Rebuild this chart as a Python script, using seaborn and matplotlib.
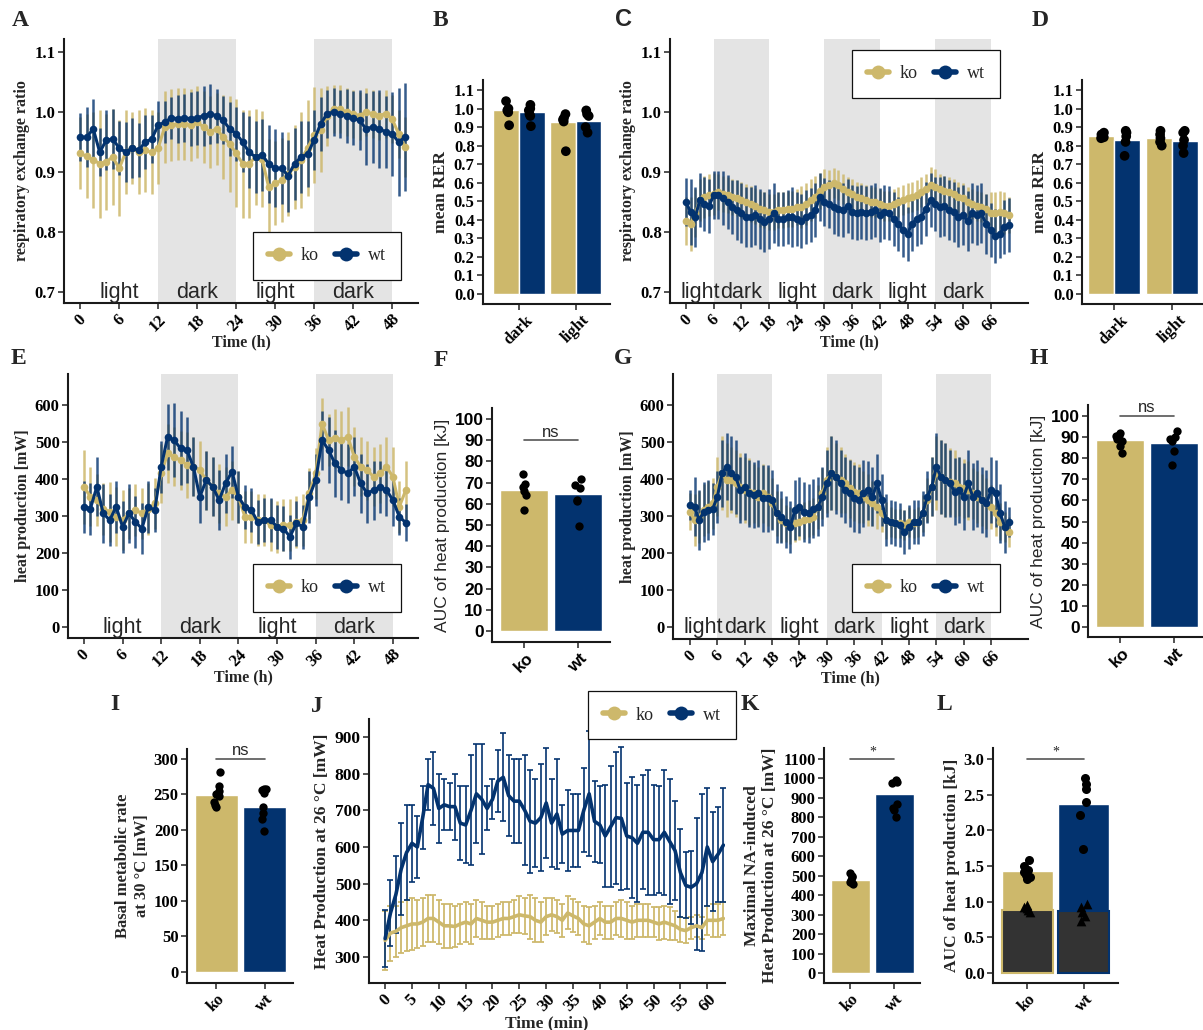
import numpy as np
import pandas as pd
import matplotlib
matplotlib.use("Agg")
import matplotlib.pyplot as plt
from matplotlib.lines import Line2D
import seaborn as sns

# ---------------- data ----------------
genotypes = ["ko", "wt"]
periods = ["dark", "light"]

# Panel A: RER, 50 h
hours_A = list(range(0, 51))
a_wt = [0.958, 0.958, 0.972, 0.933, 0.953, 0.955, 0.940, 0.933, 0.940, 0.936,
        0.950, 0.955, 0.978, 0.983, 0.990, 0.989, 0.990, 0.989, 0.990, 0.994,
        0.997, 0.994, 0.986, 0.972, 0.964, 0.950, 0.933, 0.925, 0.928, 0.914,
        0.906, 0.906, 0.894, 0.914, 0.925, 0.930, 0.953, 0.980, 0.997, 1.000,
        0.997, 0.994, 0.990, 0.986, 0.972, 0.975, 0.972, 0.967, 0.964, 0.950,
        0.958]
a_wt_err = [0.040, 0.050, 0.050, 0.040, 0.050, 0.050, 0.045, 0.050, 0.050, 0.045,
            0.045, 0.040, 0.040, 0.035, 0.035, 0.040, 0.040, 0.045, 0.045, 0.050,
            0.050, 0.045, 0.040, 0.045, 0.045, 0.050, 0.060, 0.060, 0.060, 0.065,
            0.065, 0.060, 0.060, 0.060, 0.060, 0.055, 0.050, 0.045, 0.040, 0.040,
            0.040, 0.045, 0.045, 0.050, 0.060, 0.060, 0.065, 0.060, 0.070, 0.090,
            0.090]
a_ko = [0.931, 0.926, 0.920, 0.914, 0.917, 0.925, 0.906, 0.933, 0.940, 0.933,
        0.936, 0.933, 0.940, 0.975, 0.978, 0.980, 0.980, 0.978, 0.983, 0.975,
        0.967, 0.972, 0.958, 0.947, 0.931, 0.914, 0.914, 0.925, 0.922, 0.875,
        0.881, 0.886, 0.897, 0.908, 0.920, 0.940, 0.961, 0.970, 0.994, 1.005,
        1.005, 1.000, 0.997, 0.994, 1.000, 0.997, 0.994, 0.997, 0.989, 0.964,
        0.942]
a_ko_err = [0.060, 0.070, 0.080, 0.090, 0.080, 0.080, 0.080, 0.070, 0.060, 0.070,
            0.070, 0.070, 0.060, 0.060, 0.060, 0.060, 0.060, 0.060, 0.060, 0.060,
            0.060, 0.060, 0.070, 0.080, 0.090, 0.090, 0.090, 0.080, 0.080, 0.080,
            0.070, 0.070, 0.070, 0.070, 0.080, 0.080, 0.080, 0.070, 0.050, 0.040,
            0.040, 0.040, 0.040, 0.040, 0.040, 0.040, 0.040, 0.040, 0.040, 0.040,
            0.050]

# Panel C: RER, 70 h
hours_C = list(range(0, 71))
c_wt = [0.850, 0.833, 0.825, 0.853, 0.847, 0.844, 0.861, 0.861, 0.856, 0.850,
        0.842, 0.836, 0.831, 0.825, 0.825, 0.828, 0.822, 0.817, 0.822, 0.831,
        0.822, 0.822, 0.825, 0.825, 0.822, 0.819, 0.825, 0.828, 0.836, 0.858,
        0.850, 0.847, 0.842, 0.839, 0.836, 0.844, 0.833, 0.831, 0.833, 0.831,
        0.833, 0.836, 0.828, 0.833, 0.831, 0.822, 0.814, 0.803, 0.797, 0.814,
        0.822, 0.825, 0.839, 0.853, 0.847, 0.842, 0.844, 0.836, 0.833, 0.825,
        0.828, 0.819, 0.831, 0.828, 0.831, 0.814, 0.803, 0.794, 0.797, 0.808,
        0.811]
c_wt_err = [0.040, 0.055, 0.050, 0.045, 0.045, 0.045, 0.040, 0.040, 0.045, 0.045,
            0.045, 0.050, 0.050, 0.050, 0.050, 0.050, 0.050, 0.050, 0.050, 0.050,
            0.045, 0.045, 0.045, 0.050, 0.045, 0.045, 0.045, 0.045, 0.045, 0.040,
            0.040, 0.040, 0.045, 0.045, 0.045, 0.045, 0.045, 0.045, 0.045, 0.045,
            0.045, 0.045, 0.045, 0.045, 0.045, 0.045, 0.045, 0.045, 0.045, 0.045,
            0.045, 0.045, 0.045, 0.045, 0.045, 0.050, 0.050, 0.050, 0.050, 0.050,
            0.050, 0.050, 0.050, 0.050, 0.050, 0.050, 0.045, 0.045, 0.040, 0.045,
            0.045]
c_ko = [0.819, 0.814, 0.831, 0.853, 0.858, 0.861, 0.864, 0.867, 0.864, 0.861,
        0.858, 0.856, 0.853, 0.850, 0.847, 0.844, 0.839, 0.836, 0.833, 0.833,
        0.836, 0.836, 0.839, 0.839, 0.842, 0.842, 0.847, 0.853, 0.858, 0.869,
        0.875, 0.878, 0.881, 0.878, 0.872, 0.867, 0.864, 0.858, 0.856, 0.853,
        0.850, 0.850, 0.847, 0.844, 0.844, 0.847, 0.850, 0.853, 0.856, 0.858,
        0.861, 0.867, 0.872, 0.878, 0.875, 0.872, 0.869, 0.867, 0.864, 0.858,
        0.856, 0.850, 0.847, 0.844, 0.842, 0.839, 0.831, 0.831, 0.833, 0.831,
        0.828]
c_ko_err = [0.040, 0.045, 0.040, 0.035, 0.035, 0.035, 0.035, 0.030, 0.030, 0.030,
            0.030, 0.030, 0.030, 0.030, 0.030, 0.030, 0.030, 0.030, 0.030, 0.030,
            0.030, 0.030, 0.030, 0.030, 0.030, 0.035, 0.035, 0.035, 0.035, 0.030,
            0.030, 0.025, 0.025, 0.025, 0.025, 0.025, 0.025, 0.025, 0.025, 0.025,
            0.025, 0.025, 0.025, 0.025, 0.025, 0.025, 0.025, 0.025, 0.025, 0.025,
            0.025, 0.025, 0.025, 0.030, 0.030, 0.025, 0.025, 0.025, 0.025, 0.025,
            0.025, 0.025, 0.025, 0.025, 0.025, 0.025, 0.035, 0.035, 0.035, 0.035,
            0.030]

# Panel E: heat production, 50 h
hours_E = list(range(0, 51))
e_wt = [325, 320, 379, 307, 289, 325, 271, 307, 284, 266,
        325, 316, 433, 514, 505, 483, 478, 433, 352, 397,
        379, 343, 388, 420, 352, 325, 316, 284, 289, 289,
        271, 266, 244, 280, 271, 352, 397, 505, 478, 442,
        424, 415, 433, 388, 361, 370, 379, 370, 343, 298,
        282]
e_wt_err = [70, 70, 80, 80, 70, 70, 70, 80, 70, 70,
            70, 60, 70, 90, 100, 100, 90, 80, 70, 80,
            80, 80, 80, 70, 70, 60, 60, 60, 60, 60,
            60, 60, 60, 60, 60, 70, 70, 80, 90, 90,
            80, 80, 80, 80, 80, 80, 70, 70, 70, 50,
            50]
e_ko = [379, 352, 343, 320, 311, 298, 289, 307, 316, 307,
        320, 334, 415, 469, 460, 451, 438, 433, 424, 397,
        379, 361, 352, 370, 352, 298, 298, 289, 289, 275,
        271, 275, 275, 284, 289, 361, 415, 550, 505, 510,
        505, 514, 460, 433, 424, 406, 415, 433, 406, 325,
        370]
e_ko_err = [100, 80, 70, 70, 80, 80, 80, 70, 70, 70,
            70, 70, 80, 80, 80, 80, 90, 80, 80, 80,
            80, 80, 80, 80, 70, 70, 70, 70, 70, 70,
            70, 70, 70, 70, 70, 70, 70, 70, 70, 80,
            80, 80, 80, 80, 80, 80, 80, 80, 80, 70,
            80]

# Panel G: heat production, 70 h
hours_G = list(range(0, 71))
g_wt = [329, 325, 289, 311, 316, 320, 352, 415, 433, 415,
        406, 370, 379, 361, 357, 361, 348, 348, 343, 307,
        298, 284, 271, 316, 325, 311, 307, 320, 325, 352,
        388, 415, 406, 388, 370, 361, 348, 343, 361, 370,
        352, 388, 343, 289, 284, 280, 275, 257, 271, 284,
        284, 307, 352, 379, 433, 406, 397, 388, 366, 370,
        352, 388, 352, 361, 343, 334, 370, 361, 307, 271,
        284]
g_wt_err = [40, 80, 80, 80, 80, 70, 70, 90, 90, 100,
            100, 90, 90, 90, 90, 90, 90, 90, 80, 80,
            70, 70, 70, 80, 80, 80, 80, 80, 80, 80,
            90, 100, 100, 90, 90, 90, 90, 90, 90, 80,
            80, 80, 70, 70, 60, 60, 60, 60, 60, 60,
            60, 60, 70, 80, 90, 100, 100, 90, 90, 90,
            90, 90, 90, 90, 90, 90, 90, 90, 80, 70,
            40]
g_ko = [311, 289, 298, 316, 325, 334, 379, 415, 397, 397,
        388, 379, 370, 366, 361, 352, 361, 352, 334, 307,
        289, 280, 275, 280, 284, 289, 293, 298, 325, 361,
        397, 415, 406, 397, 388, 375, 366, 361, 352, 343,
        334, 325, 307, 289, 284, 280, 280, 275, 284, 280,
        284, 307, 343, 379, 415, 406, 397, 393, 388, 379,
        375, 370, 361, 352, 343, 334, 325, 307, 284, 271,
        257]
g_ko_err = [50, 70, 70, 70, 70, 70, 80, 100, 100, 90,
            90, 90, 90, 90, 80, 80, 80, 80, 70, 60,
            60, 50, 50, 50, 50, 50, 50, 50, 60, 70,
            90, 100, 90, 90, 80, 80, 80, 80, 70, 70,
            60, 60, 50, 50, 40, 40, 40, 40, 40, 40,
            40, 50, 60, 80, 100, 100, 100, 90, 90, 80,
            80, 80, 70, 70, 70, 70, 60, 60, 50, 40,
            40]

# Panel J: heat production at 26 C, 63 min
minutes_J = list(range(0, 64))
j_wt = [350, 420, 470, 540, 585, 610, 600, 680, 770, 760,
        705, 715, 710, 710, 665, 660, 700, 745, 730, 705,
        730, 780, 790, 740, 725, 725, 700, 670, 665, 680,
        720, 665, 690, 635, 645, 645, 645, 700, 745, 670,
        660, 630, 655, 680, 678, 630, 625, 610, 640, 640,
        620, 620, 640, 615, 590, 530, 495, 490, 500, 530,
        600, 560, 580, 605]
j_wt_err = [78, 90, 105, 125, 130, 105, 85, 85, 70, 100,
            95, 70, 65, 90, 100, 105, 150, 135, 150, 60,
            55, 85, 120, 110, 115, 115, 150, 140, 120, 145,
            150, 120, 150, 80, 110, 100, 100, 115, 170, 110,
            105, 140, 165, 180, 195, 145, 165, 160, 155, 170,
            150, 145, 170, 170, 135, 120, 90, 100, 180, 215,
            160, 135, 130, 155]
j_ko = [345, 365, 370, 380, 385, 390, 390, 395, 405, 405,
        395, 385, 385, 383, 390, 395, 390, 405, 400, 395,
        395, 400, 405, 405, 410, 415, 412, 410, 400, 395,
        410, 415, 410, 400, 420, 412, 405, 390, 385, 395,
        405, 395, 395, 405, 405, 400, 395, 400, 400, 400,
        395, 390, 395, 390, 385, 375, 372, 380, 385, 380,
        400, 400, 400, 405]
j_ko_err = [80, 75, 70, 70, 70, 70, 65, 65, 65, 65,
            60, 60, 60, 55, 55, 55, 55, 50, 50, 45,
            45, 45, 45, 45, 45, 50, 50, 60, 60, 55,
            50, 45, 45, 45, 45, 45, 45, 50, 50, 45,
            45, 45, 45, 45, 50, 50, 45, 45, 45, 45,
            40, 45, 45, 45, 40, 35, 35, 30, 30, 30,
            40, 45, 45, 45]

# Panel B: mean RER
b_ko_means = [0.990, 0.930]
b_wt_means = [0.982, 0.935]
b_ko_dark = [1.04, 1.00, 0.99, 0.98, 0.91]
b_wt_dark = [1.02, 1.00, 0.99, 0.97, 0.96, 0.905]
b_ko_light = [0.97, 0.95, 0.94, 0.93, 0.77]
b_wt_light = [0.99, 0.97, 0.96, 0.90, 0.87]

# Panel D: mean RER
d_ko_means = [0.852, 0.840]
d_wt_means = [0.830, 0.825]
d_ko_dark = [0.87, 0.86, 0.855, 0.845, 0.84]
d_wt_dark = [0.88, 0.87, 0.85, 0.82, 0.745]
d_ko_light = [0.88, 0.86, 0.84, 0.82, 0.80]
d_wt_light = [0.88, 0.87, 0.83, 0.80, 0.76]

# Panel F / H: AUC heat production [kJ]
f_means = [66.5, 64.5]
f_ko_pts = [74, 69.5, 68, 66, 64, 57]
f_wt_pts = [71.5, 69, 67.5, 62, 61.5, 49.5]
h_means = [88.5, 87.0]
h_ko_pts = [92, 91, 90.5, 89, 88, 86, 82.5]
h_wt_pts = [93, 90, 89, 88, 83.5, 77]

# Panel I: basal metabolic rate
i_means = [249, 233]
i_ko_pts = [281, 262, 255, 250, 248, 240, 235, 232]
i_wt_pts = [258, 257, 256, 252, 233, 224, 216, 199]

# Panel K: maximal NA-induced heat production
k_means = [480, 922]
k_ko_pts = [512, 500, 492, 480, 470, 462, 455]
k_wt_pts = [990, 985, 980, 975, 870, 850, 840, 800]

# Panel L: AUC of heat production
l_total = [1.43, 2.37]
l_base = [0.88, 0.87]
l_ko_circ = [1.59, 1.50, 1.45, 1.42, 1.38, 1.35, 1.32]
l_ko_tri = [0.95, 0.93, 0.91, 0.89, 0.86]
l_wt_circ = [2.74, 2.65, 2.58, 2.40, 2.22, 1.74]
l_wt_tri = [0.97, 0.93, 0.85, 0.80, 0.73]

# significance
sig_F = (90, "ns")
sig_H = (100, "ns")
sig_I = (300, "ns")
sig_K = (1100, "*")
sig_L = (3.0, "*")

# ticks
ticks_rer = [0.7, 0.8, 0.9, 1.0, 1.1]
ticks_mean_rer = [0.0, 0.1, 0.2, 0.3, 0.4, 0.5, 0.6, 0.7, 0.8, 0.9, 1.0, 1.1]
ticks_heat = [0, 100, 200, 300, 400, 500, 600]
ticks_auc = [0, 10, 20, 30, 40, 50, 60, 70, 80, 90, 100]
ticks_bmr = [0, 50, 100, 150, 200, 250, 300]
ticks_J = [300, 400, 500, 600, 700, 800, 900]
ticks_K = [0, 100, 200, 300, 400, 500, 600, 700, 800, 900, 1000, 1100]
ticks_L = [0.0, 0.5, 1.0, 1.5, 2.0, 2.5, 3.0]
xticks_50 = [0, 6, 12, 18, 24, 30, 36, 42, 48]
xticks_70 = [0, 6, 12, 18, 24, 30, 36, 42, 48, 54, 60, 66]
xticks_J = [0, 5, 10, 15, 20, 25, 30, 35, 40, 45, 50, 55, 60]

# ---------------- style ----------------
sns.set_theme(style="ticks")
SERIF = ["Liberation Serif", "DejaVu Serif"]
SANS = ["Liberation Sans", "DejaVu Sans"]
plt.rcParams["font.family"] = SERIF
np.random.seed(7)

KO = "#CDB86B"
WT = "#03336F"
SHADE = "#E4E4E4"
GRAYBAR = "#333333"
palette = {"ko": KO, "wt": WT}

W, H = 1203, 1030
fig = plt.figure(figsize=(W / 100, H / 100), dpi=100)
fig.patch.set_facecolor("white")


def add_ax(l, t, r, b):
    return fig.add_axes([l / W, 1 - b / H, (r - l) / W, (b - t) / H])


def finish(ax, family=SERIF, size=12):
    sns.despine(ax=ax)
    ax.set_facecolor("none")
    ax.grid(False)
    for s in ("left", "bottom"):
        ax.spines[s].set_linewidth(1.5)
        ax.spines[s].set_color("#1a1a1a")
    ax.tick_params(axis="both", direction="out", length=4, width=1.2,
                   color="#333333", labelcolor="black", pad=2)
    for lab in ax.get_xticklabels() + ax.get_yticklabels():
        lab.set_fontfamily(family)
        lab.set_fontweight("bold")
        lab.set_fontsize(size)


def add_legend(ax, cx, cy):
    handles = [Line2D([], [], color=palette[g], marker="o", markersize=10,
                      lw=4, markeredgewidth=0) for g in genotypes]
    leg = ax.legend(handles, genotypes, ncol=2, loc="center",
                    bbox_to_anchor=(cx / W, 1 - cy / H), bbox_transform=fig.transFigure,
                    frameon=True, fancybox=False, framealpha=1, edgecolor="#111111",
                    prop={"family": SERIF, "size": 13}, handlelength=1.2,
                    handletextpad=0.6, columnspacing=0.9, borderpad=0.85)
    leg.get_frame().set_linewidth(0.9)
    leg.set_zorder(10)


def timeseries(ax, hours, ko, ko_err, wt, wt_err, dark, phase_pos, phase_names,
               phase_y, xticks, xlim, yticks, yfmt, ylim, ylabel):
    for s, e in dark:
        ax.axvspan(s, e, color=SHADE, lw=0, zorder=0)
    ax.errorbar(hours, ko, yerr=ko_err, fmt="none", ecolor=KO, elinewidth=1.8,
                alpha=0.85, zorder=2)
    ax.errorbar(hours, wt, yerr=wt_err, fmt="none", ecolor=WT, elinewidth=1.8,
                alpha=0.8, zorder=2)
    n = len(hours)
    df = pd.DataFrame({"t": list(hours) * 2, "v": list(ko) + list(wt),
                       "g": ["ko"] * n + ["wt"] * n})
    sns.lineplot(data=df, x="t", y="v", hue="g", hue_order=genotypes, palette=palette,
                 marker="o", markersize=5.5, markeredgewidth=0, linewidth=2.2,
                 errorbar=None, legend=False, ax=ax, zorder=3)
    for p, name in zip(phase_pos, phase_names):
        ax.text(p, phase_y, name, ha="center", va="center", family=SANS,
                fontsize=15.5, zorder=4)
    ax.set_xlim(xlim)
    ax.set_ylim(ylim)
    ax.set_xticks(xticks)
    ax.set_xticklabels([str(x) for x in xticks], rotation=45, ha="center")
    ax.set_yticks(yticks)
    ax.set_yticklabels([yfmt.format(v) for v in yticks])
    ax.set_xlabel("Time (h)", family=SERIF, fontweight="bold", fontsize=11.5, labelpad=0)
    ax.set_ylabel(ylabel, family=SERIF, fontweight="bold", fontsize=11.5, labelpad=3)
    finish(ax)


def grouped_bars(ax, ko_means, wt_means, ko_dark, wt_dark, ko_light, wt_light):
    dfb = pd.DataFrame({"period": periods * 2, "genotype": ["ko"] * 2 + ["wt"] * 2,
                        "value": ko_means + wt_means})
    sns.barplot(data=dfb, x="period", y="value", hue="genotype", order=periods,
                hue_order=genotypes, palette=palette, width=0.9, errorbar=None,
                saturation=1, legend=False, ax=ax)
    vals = ko_dark + wt_dark + ko_light + wt_light
    per = ["dark"] * (len(ko_dark) + len(wt_dark)) + ["light"] * (len(ko_light) + len(wt_light))
    gen = ["ko"] * len(ko_dark) + ["wt"] * len(wt_dark) + ["ko"] * len(ko_light) + ["wt"] * len(wt_light)
    dfp = pd.DataFrame({"period": per, "genotype": gen, "value": vals})
    sns.stripplot(data=dfp, x="period", y="value", hue="genotype", order=periods,
                  hue_order=genotypes, palette={"ko": "black", "wt": "black"},
                  dodge=True, jitter=0.06, size=7, legend=False, ax=ax, zorder=3)
    ax.set_ylim(-0.054, 1.154)
    ax.set_yticks(ticks_mean_rer)
    ax.set_yticklabels(["{:.1f}".format(v) for v in ticks_mean_rer])
    ax.set_xticks([0, 1])
    ax.set_xticklabels(periods, rotation=45, ha="center")
    ax.set_xlabel("")
    ax.set_ylabel("mean RER", family=SERIF, fontweight="bold", fontsize=12.5, labelpad=3)
    finish(ax, size=12)


def single_bars(ax, means, ko_pts, wt_pts, size=6.5):
    dfb = pd.DataFrame({"genotype": genotypes, "value": means})
    sns.barplot(data=dfb, x="genotype", y="value", hue="genotype", order=genotypes,
                hue_order=genotypes, palette=palette, width=0.9, errorbar=None,
                saturation=1, legend=False, ax=ax)
    dfp = pd.DataFrame({"genotype": ["ko"] * len(ko_pts) + ["wt"] * len(wt_pts),
                        "value": ko_pts + wt_pts})
    sns.stripplot(data=dfp, x="genotype", y="value", order=genotypes, color="black",
                  jitter=0.07, size=size, ax=ax, zorder=3)
    ax.set_xlabel("")


def bracket(ax, sig, family, fontsize=12):
    y, label = sig
    ax.plot([0, 1], [y, y], color="#555555", lw=1.2, zorder=4)
    ax.annotate(label, xy=(0.5, y), xytext=(0, 0.5), textcoords="offset points",
                ha="center", va="bottom", family=family, fontsize=fontsize)


def panel_letter(x, y, s, family=SERIF):
    fig.text(x / W, 1 - y / H, s, ha="center", va="center", fontsize=17,
             fontweight="bold", family=family)


# ---------------- A ----------------
axA = add_ax(64, 39, 418, 303)
timeseries(axA, hours_A, a_ko, a_ko_err, a_wt, a_wt_err, [(12, 24), (36, 48)],
           [6, 18, 30, 42], ["light", "dark", "light", "dark"], 0.7,
           xticks_50, (-2.5, 52), ticks_rer, "{:.1f}", (0.6817, 1.1217),
           "respiratory exchange ratio")
add_legend(axA, 327, 256)

# ---------------- B ----------------
axB = add_ax(483, 80, 610, 304)
grouped_bars(axB, b_ko_means, b_wt_means, b_ko_dark, b_wt_dark, b_ko_light, b_wt_light)
axB.set_xlim(-0.63, 1.6)

# ---------------- C ----------------
axC = add_ax(670, 39, 1028, 303)
timeseries(axC, hours_C, c_ko, c_ko_err, c_wt, c_wt_err, [(6, 18), (30, 42), (54, 66)],
           [3, 12, 24, 36, 48, 60], ["light", "dark", "light", "dark", "light", "dark"], 0.7,
           xticks_70, (-3.47, 74.1), ticks_rer, "{:.1f}", (0.6817, 1.1217),
           "respiratory exchange ratio")
add_legend(axC, 926, 74)

# ---------------- D ----------------
axD = add_ax(1082, 80, 1203, 304)
grouped_bars(axD, d_ko_means, d_wt_means, d_ko_dark, d_wt_dark, d_ko_light, d_wt_light)
axD.set_xlim(-0.55, 1.53)

# ---------------- E ----------------
axE = add_ax(68, 374, 418, 638)
timeseries(axE, hours_E, e_ko, e_ko_err, e_wt, e_wt_err, [(12, 24), (36, 48)],
           [6, 18, 30, 42], ["light", "dark", "light", "dark"], 0,
           xticks_50, (-2.48, 51.9), ticks_heat, "{:d}", (-29.7, 683.8),
           "heat production [mW]")
add_legend(axE, 327, 588)

# ---------------- F ----------------
axF = add_ax(492, 408, 610, 642)
single_bars(axF, f_means, f_ko_pts, f_wt_pts, size=6)
bracket(axF, sig_F, SANS)
axF.set_xlim(-0.6, 1.6)
axF.set_ylim(-5.2, 105.2)
axF.set_yticks(ticks_auc)
axF.set_yticklabels([str(v) for v in ticks_auc])
axF.set_xticks([0, 1])
axF.set_xticklabels(genotypes, rotation=45, ha="center")
axF.set_ylabel("AUC of heat production [kJ]", family=SANS, fontsize=12.5, labelpad=3)
finish(axF, family=SANS, size=12.5)

# ---------------- G ----------------
axG = add_ax(673, 374, 1028, 639)
timeseries(axG, hours_G, g_ko, g_ko_err, g_wt, g_wt_err, [(6, 18), (30, 42), (54, 66)],
           [3, 12, 24, 36, 48, 60], ["light", "dark", "light", "dark", "light", "dark"], 0,
           xticks_70, (-3.73, 74.1), ticks_heat, "{:d}", (-32.4, 683.8),
           "heat production [mW]")
add_legend(axG, 926, 588)

# ---------------- H ----------------
axH = add_ax(1088, 405, 1203, 637)
single_bars(axH, h_means, h_ko_pts, h_wt_pts, size=6)
bracket(axH, sig_H, SANS)
axH.set_xlim(-0.6, 1.55)
axH.set_ylim(-4.7, 105.2)
axH.set_yticks(ticks_auc)
axH.set_yticklabels([str(v) for v in ticks_auc])
axH.set_xticks([0, 1])
axH.set_xticklabels(genotypes, rotation=45, ha="center")
axH.set_ylabel("AUC of heat production [kJ]", family=SANS, fontsize=12.5, labelpad=3)
finish(axH, family=SANS, size=12.5)

# ---------------- I ----------------
axI = add_ax(187, 749, 293, 983)
single_bars(axI, i_means, i_ko_pts, i_wt_pts, size=6)
bracket(axI, sig_I, SANS)
axI.set_xlim(-0.61, 1.59)
axI.set_ylim(-15.5, 314)
axI.set_yticks(ticks_bmr)
axI.set_yticklabels([str(v) for v in ticks_bmr])
axI.set_xticks([0, 1])
axI.set_xticklabels(genotypes, rotation=45, ha="center")
axI.set_ylabel("Basal metabolic rate\nat 30 \u00b0C [mW]", family=SERIF,
               fontweight="bold", fontsize=12, labelpad=3)
finish(axI, size=12)

# ---------------- J ----------------
axJ = add_ax(369, 719, 725, 983)
axJ.errorbar(minutes_J, j_ko, yerr=j_ko_err, fmt="none", ecolor=KO, elinewidth=1.4,
             capsize=2, capthick=1.4, alpha=0.9, zorder=2)
axJ.errorbar(minutes_J, j_wt, yerr=j_wt_err, fmt="none", ecolor=WT, elinewidth=1.4,
             capsize=2, capthick=1.4, alpha=0.85, zorder=2)
nJ = len(minutes_J)
dfJ = pd.DataFrame({"t": minutes_J * 2, "v": j_ko + j_wt, "g": ["ko"] * nJ + ["wt"] * nJ})
sns.lineplot(data=dfJ, x="t", y="v", hue="g", hue_order=genotypes, palette=palette,
             linewidth=2.6, errorbar=None, legend=False, ax=axJ, zorder=3)
axJ.set_xlim(-3, 63.3)
axJ.set_ylim(229, 949)
axJ.set_xticks(xticks_J)
axJ.set_xticklabels([str(v) for v in xticks_J], rotation=45, ha="center")
axJ.set_yticks(ticks_J)
axJ.set_yticklabels([str(v) for v in ticks_J])
axJ.set_xlabel("Time (min)", family=SERIF, fontweight="bold", fontsize=12.5, labelpad=0)
axJ.set_ylabel("Heat Production at 26 \u00b0C [mW]", family=SERIF, fontweight="bold",
               fontsize=12.5, labelpad=3)
finish(axJ, size=12.5)
add_legend(axJ, 662, 715)

# ---------------- K ----------------
axK = add_ax(824, 748, 920, 983)
single_bars(axK, k_means, k_ko_pts, k_wt_pts, size=6)
bracket(axK, sig_K, SERIF, fontsize=10)
axK.set_xlim(-0.6, 1.58)
axK.set_ylim(-51, 1156)
axK.set_yticks(ticks_K)
axK.set_yticklabels([str(v) for v in ticks_K])
axK.set_xticks([0, 1])
axK.set_xticklabels(genotypes, rotation=45, ha="center")
axK.set_ylabel("Maximal NA-induced\nHeat Production at 26 \u00b0C [mW]", family=SERIF,
               fontweight="bold", fontsize=12.5, labelpad=3)
finish(axK, size=12)

# ---------------- L ----------------
axL = add_ax(993, 748, 1118, 983)
dfLt = pd.DataFrame({"genotype": genotypes, "value": l_total})
sns.barplot(data=dfLt, x="genotype", y="value", hue="genotype", order=genotypes,
            hue_order=genotypes, palette=palette, width=0.9, errorbar=None,
            saturation=1, legend=False, ax=axL)
n0 = len(axL.patches)
dfLb = pd.DataFrame({"genotype": genotypes, "value": l_base})
sns.barplot(data=dfLb, x="genotype", y="value", order=genotypes, color=GRAYBAR,
            width=0.9, errorbar=None, saturation=1, ax=axL)
for patch, g in zip(axL.patches[n0:], genotypes):
    patch.set_edgecolor(palette[g])
    patch.set_linewidth(1.5)
dfLc = pd.DataFrame({"genotype": ["ko"] * len(l_ko_circ) + ["wt"] * len(l_wt_circ),
                     "value": l_ko_circ + l_wt_circ})
dfLtr = pd.DataFrame({"genotype": ["ko"] * len(l_ko_tri) + ["wt"] * len(l_wt_tri),
                      "value": l_ko_tri + l_wt_tri})
sns.stripplot(data=dfLc, x="genotype", y="value", order=genotypes, color="black",
              jitter=0.07, size=6.5, ax=axL, zorder=3)
sns.stripplot(data=dfLtr, x="genotype", y="value", order=genotypes, color="black",
              marker="^", jitter=0.07, size=7, ax=axL, zorder=3)
bracket(axL, sig_L, SERIF, fontsize=10)
axL.set_xlim(-0.6, 1.6)
axL.set_ylim(-0.14, 3.154)
axL.set_yticks(ticks_L)
axL.set_yticklabels(["{:.1f}".format(v) for v in ticks_L])
axL.set_xticks([0, 1])
axL.set_xticklabels(genotypes, rotation=45, ha="center")
axL.set_xlabel("")
axL.set_ylabel("AUC of heat production [kJ]", family=SERIF, fontweight="bold",
               fontsize=12.5, labelpad=3)
finish(axL, size=12)

# ---------------- panel letters ----------------
panel_letter(20, 20, "A")
panel_letter(440, 20, "B")
panel_letter(623, 20, "C", family=SANS)
panel_letter(1040, 20, "D")
panel_letter(18, 358, "E")
panel_letter(441, 360, "F")
panel_letter(623, 358, "G")
panel_letter(1039, 358, "H")
panel_letter(115, 705, "I")
panel_letter(317, 706, "J")
panel_letter(750, 705, "K")
panel_letter(944, 705, "L")

fig.savefig("out.png", dpi=100, facecolor="white")
